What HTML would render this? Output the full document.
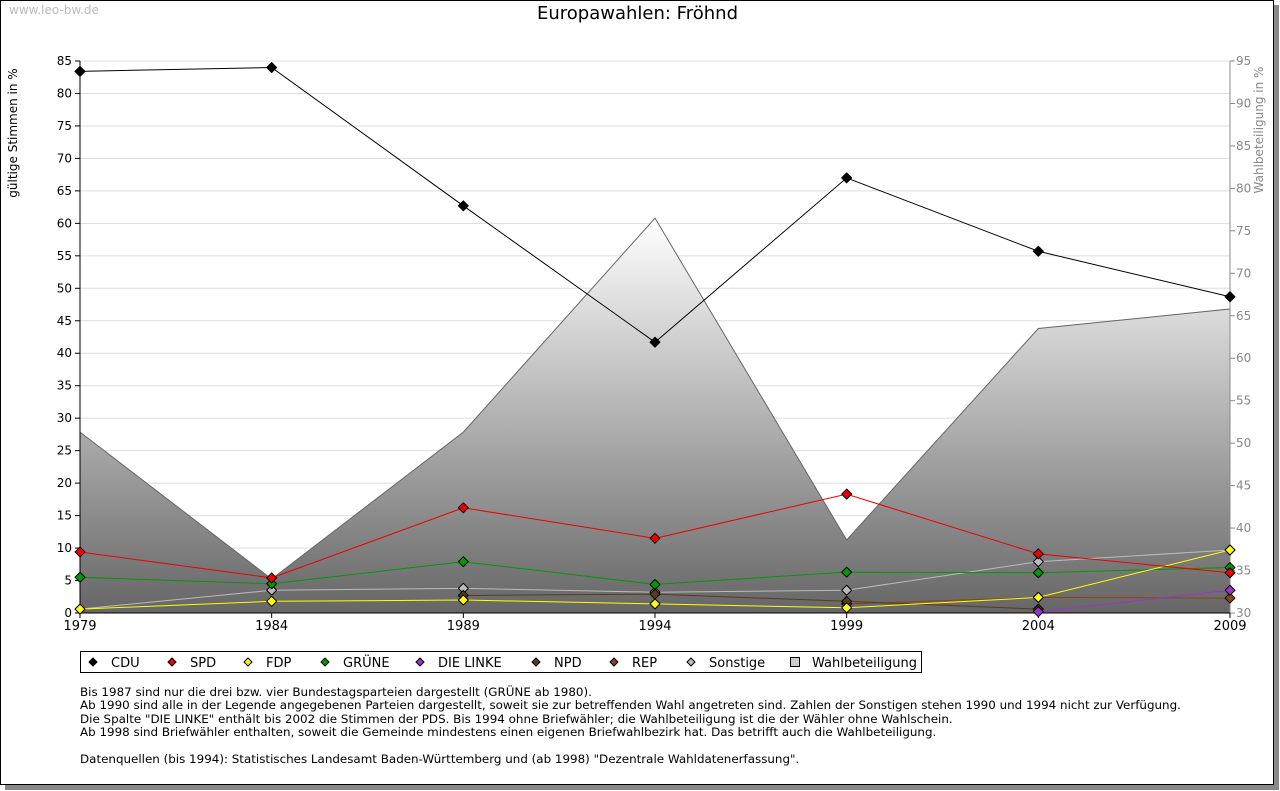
<!DOCTYPE html>
<html><head><meta charset="utf-8"><style>
body{margin:0;width:1280px;height:791px;background:#fff;font-family:"DejaVu Sans","Liberation Sans",sans-serif;overflow:hidden;position:relative}
#frame{position:absolute;left:0;top:0;width:1272px;height:783px;border:1px solid #000;box-shadow:5px 5px 0 #888;background:#fff}
.t{position:absolute;white-space:nowrap}
</style></head><body>
<div id="frame"></div>
<div class="t" style="left:9px;top:3px;font-size:12px;color:#bbb">www.leo-bw.de</div>
<div class="t" style="left:0;width:1275px;text-align:center;top:3px;font-size:18px">Europawahlen: Fröhnd</div>
<svg id="c" width="1280" height="791" style="position:absolute;left:0;top:0"></svg>
<div class="t" style="left:80px;top:686px;font-size:11.9px;line-height:13.4px">Bis 1987 sind nur die drei bzw. vier Bundestagsparteien dargestellt (GRÜNE ab 1980).<br>Ab 1990 sind alle in der Legende angegebenen Parteien dargestellt, soweit sie zur betreffenden Wahl angetreten sind. Zahlen der Sonstigen stehen 1990 und 1994 nicht zur Verfügung.<br>Die Spalte "DIE LINKE" enthält bis 2002 die Stimmen der PDS. Bis 1994 ohne Briefwähler; die Wahlbeteiligung ist die der Wähler ohne Wahlschein.<br>Ab 1998 sind Briefwähler enthalten, soweit die Gemeinde mindestens einen eigenen Briefwahlbezirk hat. Das betrifft auch die Wahlbeteiligung.<br><br>Datenquellen (bis 1994): Statistisches Landesamt Baden-Württemberg und (ab 1998) "Dezentrale Wahldatenerfassung".</div>
<script>
const years=[1979,1984,1989,1994,1999,2004,2009];
const leftTicks=[0,5,10,15,20,25,30,35,40,45,50,55,60,65,70,75,80,85];
const rightTicks=[30,35,40,45,50,55,60,65,70,75,80,85,90,95];
const turnout=[51.3,34.0,51.3,76.5,38.6,63.5,65.8];
const cdu=[83.4,84.0,62.7,41.7,67.0,55.7,48.7];
const spd=[9.4,5.4,16.2,11.5,18.3,9.1,6.2];
const fdp=[0.6,1.8,2.0,1.4,0.8,2.4,9.7];
const gruene=[5.5,4.5,7.9,4.4,6.3,6.2,7.0];
const linke=[null,null,null,null,null,0.2,3.5];
const npd=[null,null,2.7,2.9,1.8,0.6,null];
const rep=[null,null,null,null,1.4,2.4,2.3];
const sonst=[0.6,3.5,3.8,3.2,3.5,7.9,9.7];
const series=[["CDU",cdu,"#000"],["SPD",spd,"#e00"],["FDP",fdp,"#ff0"],["GRÜNE",gruene,"#090"],["DIE LINKE",linke,"#93c"],["NPD",npd,"#5a3a1e"],["REP",rep,"#8b4513"],["Sonstige",sonst,"#bbb"]];
const X0=80,X1=1230,Y0=613,Y1=61;
const xs=i=>X0+(X1-X0)*i/(years.length-1);
const yl=v=>Y0-(Y0-Y1)*v/85;
const yr=v=>Y0-(Y0-Y1)*(v-30)/65;
const svg=document.getElementById('c');const NS="http://www.w3.org/2000/svg";
function mk(t,a,p){const e=document.createElementNS(NS,t);for(const k in a)e.setAttribute(k,a[k]);(p||svg).appendChild(e);return e;}
const defs=mk('defs',{});
const g=mk('linearGradient',{id:'gr',x1:0,y1:yr(Math.max(...turnout)),x2:0,y2:Y0,gradientUnits:'userSpaceOnUse'},defs);
mk('stop',{offset:0,'stop-color':'#fff'},g);mk('stop',{offset:1,'stop-color':'#666'},g);
leftTicks.forEach(v=>{const l=mk('line',{x1:X0,x2:X1,y1:yl(v),y2:yl(v),stroke:'#ddd'});

});
let d=`M${X0},${Y0}`;turnout.forEach((v,i)=>d+=`L${xs(i)},${yr(v)}`);d+=`L${X1},${Y0}Z`;
const area=mk('path',{d,fill:'url(#gr)',stroke:'#666'});


mk('line',{x1:X0,x2:X0,y1:Y1,y2:Y0,stroke:'#000'});
mk('line',{x1:X1,x2:X1,y1:Y1,y2:Y0,stroke:'#888'});
mk('line',{x1:X0,x2:X1,y1:Y0,y2:Y0,stroke:'#000'});
leftTicks.forEach(v=>{mk('line',{x1:X0-5,x2:X0,y1:yl(v),y2:yl(v),stroke:'#000'});
const t=mk('text',{x:X0-8,y:yl(v)+4,'text-anchor':'end','font-size':12});t.textContent=v;

});
rightTicks.forEach(v=>{mk('line',{x1:X1,x2:X1+5,y1:yr(v),y2:yr(v),stroke:'#888'});
const t=mk('text',{x:X1+6,y:yr(v)+4,'font-size':12,fill:'#888'});t.textContent=v;

});
years.forEach((y,i)=>{mk('line',{x1:xs(i),x2:xs(i),y1:Y0,y2:Y0+5,stroke:'#000'});
const t=mk('text',{x:xs(i),y:Y0+17,'text-anchor':'middle','font-size':13});t.textContent=y;

});
let t=mk('text',{transform:'translate(17,133) rotate(-90)','text-anchor':'middle','font-size':12});t.textContent='gültige Stimmen in %';


t=mk('text',{transform:'translate(1263,130) rotate(-90)','text-anchor':'middle','font-size':12,fill:'#888'});t.textContent='Wahlbeteiligung in %';


series.slice().reverse().forEach(([n,vals,col])=>{
 let p='';vals.forEach((v,i)=>{if(v==null)return;p+=(p?'L':'M')+xs(i)+','+yl(v);});
 const l=mk('path',{d:p,fill:'none',stroke:n==='CDU'?'#000':col,'stroke-width':1});
 
 
 vals.forEach((v,i)=>{if(v==null)return;const x=xs(i),y=yl(v);
  const m=mk('path',{d:`M${x},${y-5}L${x+5},${y}L${x},${y+5}L${x-5},${y}Z`,fill:col,stroke:'#000','stroke-linejoin':'round'});
  
  });
});
const lg=mk('rect',{x:80.5,y:651.5,width:841,height:21,fill:'#fff',stroke:'#000'});


const lx=[93,172,248,325,420,536,614,691];
series.forEach(([n,v,col],k)=>{const x=lx[k],y=662;
 const m=mk('path',{d:`M${x},${y-4}L${x+4},${y}L${x},${y+4}L${x-4},${y}Z`,fill:col,stroke:'#000'});
 
 
 const tx=mk('text',{x:x+18,y:y+5,'font-size':13});tx.textContent=n;
 
 });
const sq=mk('rect',{x:790.5,y:657.5,width:9,height:9,fill:'#ccc',stroke:'#000'});


t=mk('text',{x:812,y:667,'font-size':13});t.textContent='Wahlbeteiligung';


</script>
</body></html>
